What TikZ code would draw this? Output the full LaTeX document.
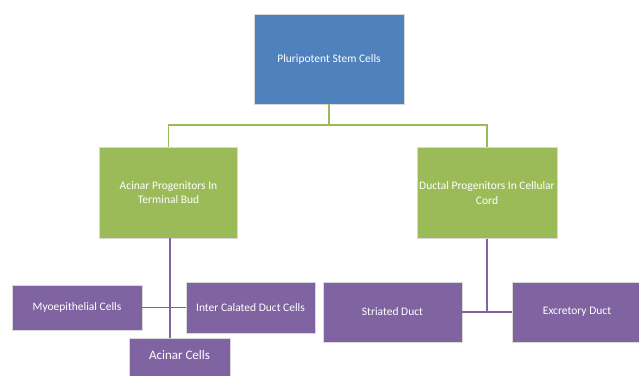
\documentclass[tikz,border=0pt]{standalone}
\usepackage{fontspec}
\setmainfont{Carlito}
\definecolor{stemblue}{RGB}{79,129,189}
\definecolor{proggreen}{RGB}{155,187,89}
\definecolor{cellpurple}{RGB}{128,100,162}
\usetikzlibrary{positioning}

\begin{document}
\begin{tikzpicture}[x=1pt,y=-1pt,
  box/.style={draw=white!85!black,line width=0.6pt,text=white,inner sep=2pt,
    font=\fontsize{11.5}{14.5}\selectfont,align=center},
  stembox/.style={box,fill=stemblue,minimum width=150pt,minimum height=90pt},
  progbox/.style={box,fill=proggreen,minimum width=138pt,minimum height=91pt},
  cellbox/.style={box,fill=cellpurple},
  gline/.style={proggreen,line width=1.6pt},
  pline/.style={cellpurple,line width=1.6pt}
]
  \useasboundingbox (0,0) rectangle (639,375);
  \clip (0,0) rectangle (639,375);

  % Stem cells
  \node[stembox] (stem) at (329,59) {Pluripotent Stem Cells};

  % Progenitors
  \node[progbox] (aprog) at (168.5,192.5) {Acinar Progenitors In\\Terminal Bud};
  \node[progbox,minimum width=140pt] (dprog) at (487,193) {Ductal Progenitors In Cellular\\Cord};

  \coordinate (gbus) at (329,125);
  \draw[gline] (stem.south) -- (gbus);
  \draw[gline] (aprog.north) |- (gbus) -| (dprog.north);

  % Acinar side
  \node[cellbox,minimum width=130pt,minimum height=45pt] (myo) at (77,307.5) {Myoepithelial Cells};
  \node[cellbox,minimum width=129pt,minimum height=51pt] (inter) at (250.5,307.5) {Inter Calated Duct Cells};
  \node[cellbox,minimum width=101pt,minimum height=46pt,
    font=\fontsize{13}{15}\selectfont,text depth=12pt] (acinar) at (179.5,361) {Acinar Cells};

  \draw[pline] (myo.east) -- (inter.west);
  \draw[pline] (aprog.south) ++(1.5,0) coordinate (adrop) -- (adrop |- acinar.north);

  % Ductal side
  \node[cellbox,minimum width=139pt,minimum height=60pt] (striated) at (392.5,312) {Striated Duct};
  \node[cellbox,minimum width=130pt,minimum height=60pt] (excretory) at (577,312) {Excretory Duct};

  \draw[pline] (dprog.south) -- (dprog.south |- striated.east);
  \draw[pline] (striated.east) -- (excretory.west);
\end{tikzpicture}
\end{document}
